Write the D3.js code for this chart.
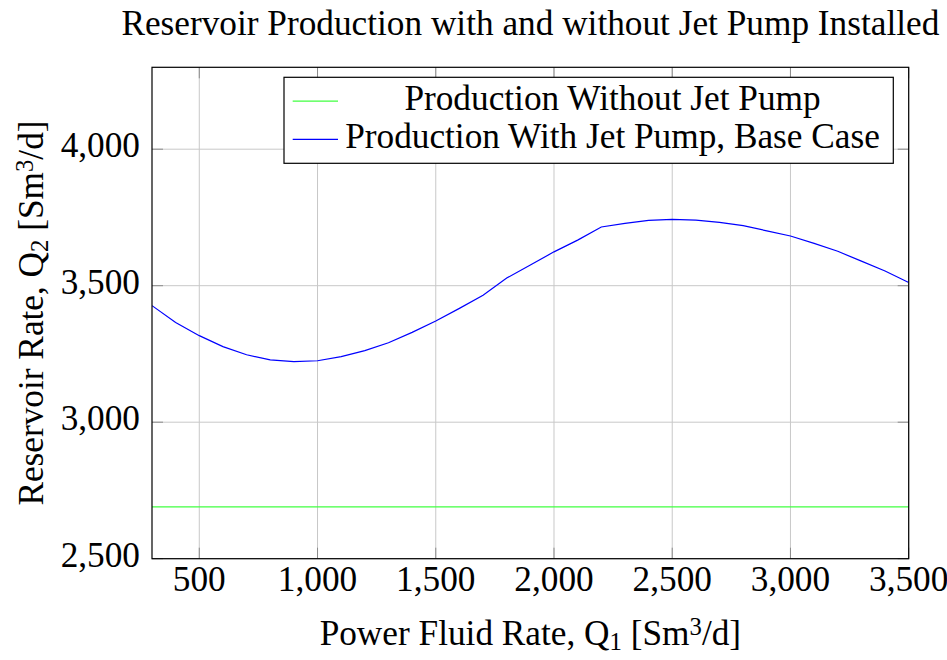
<!DOCTYPE html>
<html>
<head>
<meta charset="utf-8">
<script src="https://cdn.jsdelivr.net/npm/d3@7"></script>
<style>
  html, body { margin: 0; padding: 0; background: #fff; }
  svg { display: block; }
  text { font-family: "Liberation Serif", "DejaVu Serif", serif; fill: #000; }
</style>
</head>
<body>
<svg id="chart" width="947" height="660"></svg>
<script>
// Power fluid rate Q1 [Sm3/d]
const powerFluidRate = [300, 400, 500, 600, 700, 800, 900, 1000, 1100, 1200, 1300, 1400, 1500,
  1600, 1700, 1800, 1900, 2000, 2100, 2200, 2300, 2400, 2500, 2600, 2700, 2800, 2900, 3000,
  3100, 3200, 3300, 3400, 3500];
// Reservoir rate Q2 with the jet pump, base case
const withJetPump = [3427, 3365, 3317, 3277, 3247, 3228, 3222, 3225, 3240, 3262, 3291, 3329, 3371,
  3417, 3465, 3528, 3576, 3624, 3667, 3715, 3728, 3739, 3743, 3740, 3732, 3720, 3701, 3682,
  3655, 3626, 3590, 3554, 3512];
// Reservoir rate Q2 without the jet pump (constant)
const withoutJetPump = 2690;

const xTicks = [500, 1000, 1500, 2000, 2500, 3000, 3500];
const yTicks = [2500, 3000, 3500, 4000];
const legendLabels = ["Production Without Jet Pump", "Production With Jet Pump, Base Case"];
const seriesColors = ["#40ff40", "#0000ff"];

const svg = d3.select("#chart");
const pL = 152, pR = 908.7, pT = 67.3, pB = 558.7;

const x = d3.scaleLinear().domain([300, 3500]).range([pL, pR]);
const y = d3.scaleLinear().domain([2500, 4300]).range([pB, pT]);

// Pick a font size so the long legend entry spans its measured width
const probe = svg.append("text").attr("font-size", 100).text(legendLabels[1]);
const w100 = probe.node().getComputedTextLength();
probe.remove();
const fs = 100 * 535 / w100;

const fmt = d3.format(",");

// Grid
const grid = svg.append("g").attr("stroke", "#c8c8c8").attr("stroke-width", 1);
xTicks.forEach(t => grid.append("line").attr("x1", x(t)).attr("x2", x(t)).attr("y1", pT).attr("y2", pB));
yTicks.forEach(t => grid.append("line").attr("y1", y(t)).attr("y2", y(t)).attr("x1", pL).attr("x2", pR));

// Inner ticks on all four sides
const tl = 11;
const ticks = svg.append("g").attr("stroke", "#8c8c8c").attr("stroke-width", 1);
xTicks.forEach(t => {
  ticks.append("line").attr("x1", x(t)).attr("x2", x(t)).attr("y1", pB).attr("y2", pB - tl);
  ticks.append("line").attr("x1", x(t)).attr("x2", x(t)).attr("y1", pT).attr("y2", pT + tl);
});
yTicks.forEach(t => {
  ticks.append("line").attr("y1", y(t)).attr("y2", y(t)).attr("x1", pL).attr("x2", pL + tl);
  ticks.append("line").attr("y1", y(t)).attr("y2", y(t)).attr("x1", pR).attr("x2", pR - tl);
});

// Series
const pts = powerFluidRate.map((q, i) => [q, withJetPump[i]]);
svg.append("clipPath").attr("id", "plotclip")
  .append("rect").attr("x", pL).attr("y", pT).attr("width", pR - pL).attr("height", pB - pT);

svg.append("line")
  .attr("x1", x(300)).attr("x2", x(3500))
  .attr("y1", y(withoutJetPump)).attr("y2", y(withoutJetPump))
  .attr("stroke", seriesColors[0]).attr("stroke-width", 1.3);

svg.append("path")
  .datum(pts)
  .attr("fill", "none")
  .attr("stroke", seriesColors[1])
  .attr("stroke-width", 1.2)
  .attr("clip-path", "url(#plotclip)")
  .attr("d", d3.line().x(d => x(d[0])).y(d => y(d[1])));

// Frame
svg.append("rect").attr("x", pL).attr("y", pT).attr("width", pR - pL).attr("height", pB - pT)
  .attr("fill", "none").attr("stroke", "#000").attr("stroke-width", 1.2);

// Tick labels
const xl = svg.append("g").attr("font-size", fs).attr("text-anchor", "middle");
xTicks.forEach(t => xl.append("text").attr("x", x(t)).attr("y", pB + 32).text(fmt(t)));
const yl = svg.append("g").attr("font-size", fs).attr("text-anchor", "end");
yTicks.forEach(t => yl.append("text").attr("x", pL - 12).attr("y", y(t) + 8).text(fmt(t)));

// Title
svg.append("text").attr("x", (pL + pR) / 2).attr("y", 34.5)
  .attr("text-anchor", "middle").attr("font-size", fs)
  .text("Reservoir Production with and without Jet Pump Installed");

// X axis label
const xt = svg.append("text").attr("x", (pL + pR) / 2).attr("y", 645)
  .attr("text-anchor", "middle").attr("font-size", fs);
xt.append("tspan").text("Power Fluid Rate, Q");
xt.append("tspan").attr("font-size", fs * 0.7).attr("dy", 5).text("1");
xt.append("tspan").attr("dy", -5).text(" [Sm");
xt.append("tspan").attr("font-size", fs * 0.7).attr("dy", -10).text("3");
xt.append("tspan").attr("dy", 10).text("/d]");

// Y axis label
const yt = svg.append("text")
  .attr("transform", `translate(43,${(pT + pB) / 2}) rotate(-90)`)
  .attr("text-anchor", "middle").attr("font-size", fs);
yt.append("tspan").text("Reservoir Rate, Q");
yt.append("tspan").attr("font-size", fs * 0.7).attr("dy", 5).text("2");
yt.append("tspan").attr("dy", -5).text(" [Sm");
yt.append("tspan").attr("font-size", fs * 0.7).attr("dy", -10).text("3");
yt.append("tspan").attr("dy", 10).text("/d]");

// Legend
const lg = svg.append("g");
lg.append("rect").attr("x", 284).attr("y", 77.3).attr("width", 893.3 - 284).attr("height", 163.3 - 77.3)
  .attr("fill", "#fff").attr("stroke", "#000").attr("stroke-width", 1.2);
const rowY = [101.2, 139.3];
legendLabels.forEach((lab, i) => {
  lg.append("line").attr("x1", 292.7).attr("x2", 338).attr("y1", rowY[i]).attr("y2", rowY[i])
    .attr("stroke", seriesColors[i]).attr("stroke-width", 1.3);
  lg.append("text").attr("x", 612.5).attr("y", rowY[i] + 9).attr("text-anchor", "middle")
    .attr("font-size", fs).text(lab);
});
</script>
</body>
</html>
